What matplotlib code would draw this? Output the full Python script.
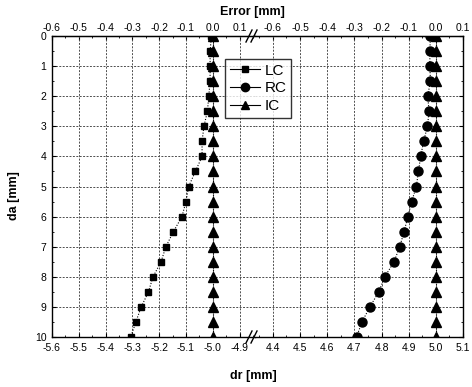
import matplotlib
matplotlib.use('Agg')
import matplotlib.pyplot as plt
from matplotlib.lines import Line2D
from matplotlib.ticker import MultipleLocator

plt.rcParams['font.family'] = ['Liberation Sans', 'DejaVu Sans']

# depth da [mm] and measured error [mm] for each condition
da = [0, 0.5, 1, 1.5, 2, 2.5, 3, 3.5, 4, 4.5, 5, 5.5, 6, 6.5, 7, 7.5, 8, 8.5, 9, 9.5, 10]
lc_err = [-0.005, -0.01, -0.01, -0.01, -0.015, -0.02, -0.033, -0.04, -0.04, -0.065, -0.09,
          -0.10, -0.115, -0.147, -0.175, -0.193, -0.223, -0.24, -0.267, -0.287, -0.306]
rc_err = [-0.02, -0.022, -0.022, -0.02, -0.03, -0.025, -0.031, -0.045, -0.056, -0.064, -0.072,
          -0.089, -0.103, -0.117, -0.133, -0.154, -0.188, -0.21, -0.243, -0.272, -0.292]
ic_err = [0, 0, 0, 0, 0, 0, 0, 0, 0, 0, 0, 0, 0, 0, 0, 0, 0, 0, 0, 0, 0]

nominal_left = -5.0
nominal_right = 5.0

left_ticks = [-5.6, -5.5, -5.4, -5.3, -5.2, -5.1, -5.0, -4.9]
right_ticks = [4.4, 4.5, 4.6, 4.7, 4.8, 4.9, 5.0, 5.1]
err_ticks = [-0.6, -0.5, -0.4, -0.3, -0.2, -0.1, 0.0, 0.1]
da_ticks = [0, 1, 2, 3, 4, 5, 6, 7, 8, 9, 10]

fig = plt.figure(figsize=(4.72, 3.87), dpi=100)
axL = fig.add_axes([0.110, 0.129, 0.430, 0.778])
axR = fig.add_axes([0.540, 0.129, 0.441, 0.778], sharey=axL)

line_kw = dict(color='black', lw=0.8, ls=(0, (1, 1.5)))


def style(ax, lo, hi, ticks, nominal):
    ax.set_xlim(lo, hi)
    ax.set_xticks(ticks)
    ax.set_xticklabels([f'{t:.1f}' for t in ticks])
    ax.xaxis.set_minor_locator(MultipleLocator(0.05))
    ax.grid(True, which='major', ls=(0, (2, 1.5)), color='0.3', lw=0.7)
    ax.tick_params(direction='in', which='both', labelsize=7.5, length=3, pad=4)
    ax.tick_params(which='minor', length=1.5)
    for s in ax.spines.values():
        s.set_linewidth(1.0)
    sec = ax.secondary_xaxis('top', functions=(lambda x: x - nominal, lambda x: x + nominal))
    sec.set_xticks(err_ticks)
    sec.set_xticklabels([f'{t:.1f}' for t in err_ticks])
    sec.xaxis.set_minor_locator(MultipleLocator(0.05))
    sec.tick_params(direction='in', which='both', labelsize=7.5, length=3, pad=2)
    sec.tick_params(which='minor', length=1.5)
    return sec


secL = style(axL, -5.6, -4.843, left_ticks, nominal_left)
secR = style(axR, 4.334, 5.1, right_ticks, nominal_right)

axL.set_ylim(10, 0)
axL.set_yticks(da_ticks)
axL.yaxis.set_minor_locator(MultipleLocator(0.5))
axL.spines['right'].set_visible(False)
axR.spines['left'].set_visible(False)
axR.yaxis.set_ticks_position('right')
axR.tick_params(axis='y', labelright=False, labelleft=False)

# left panel: LC and IC around -5 mm
axL.plot([nominal_left + e for e in lc_err], da, marker='s', ms=5, mfc='black', mec='black', **line_kw)
axL.plot([nominal_left + e for e in ic_err], da, marker='^', ms=6.5, mfc='black', mec='black', **line_kw)
# right panel: RC and IC around +5 mm
axR.plot([nominal_right + e for e in rc_err], da, marker='o', ms=6.5, mfc='black', mec='black', **line_kw)
axR.plot([nominal_right + e for e in ic_err], da, marker='^', ms=6.5, mfc='black', mec='black', **line_kw)

fig.text(0.534, 0.968, 'Error [mm]', ha='center', va='center', fontsize=9, fontweight='bold')
fig.text(0.536, 0.028, 'dr [mm]', ha='center', va='center', fontsize=9, fontweight='bold')
fig.text(0.030, 0.495, 'da [mm]', ha='center', va='center', rotation=90, fontsize=9, fontweight='bold')

# axis break marks on top and bottom spines
for yb in (337, 36):
    for dx in (-3, 2):
        x0 = (252 + dx) / 472
        fig.add_artist(Line2D([x0 - 3 / 472, x0 + 3 / 472],
                              [1 - (yb + 6) / 387, 1 - (yb - 6) / 387],
                              transform=fig.transFigure, color='black', lw=1.0))

handles = [
    Line2D([], [], color='black', lw=0.8, marker='s', ms=5, label='LC'),
    Line2D([], [], color='black', lw=0.8, marker='o', ms=6, label='RC'),
    Line2D([], [], color='black', lw=0.8, marker='^', ms=6, label='IC'),
]
leg = fig.legend(handles=handles, loc='upper left', bbox_to_anchor=(225 / 472, 1 - 59 / 387),
                 bbox_transform=fig.transFigure, fontsize=11, frameon=True, fancybox=False,
                 handlelength=2.0, handletextpad=0.3, borderpad=0.3, labelspacing=0.25,
                 borderaxespad=0)
leg.get_frame().set_edgecolor('black')
leg.get_frame().set_linewidth(1.0)

fig.savefig('out.png', dpi=100)
